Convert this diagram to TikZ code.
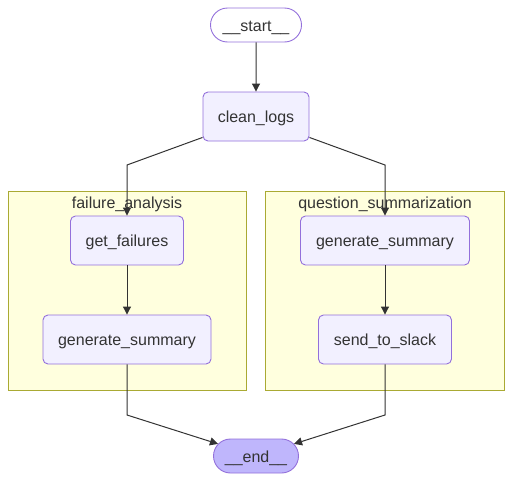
\documentclass[tikz,border=0pt]{standalone}
\usepackage{fontspec}
\setmainfont{Liberation Sans}
\usetikzlibrary{arrows.meta,shapes.misc}
\definecolor{nodefill}{HTML}{F2F0FF}
\definecolor{nodeline}{HTML}{9370DB}
\definecolor{lastfill}{HTML}{BFB6FC}
\definecolor{clusterfill}{HTML}{FFFFDE}
\definecolor{clusterline}{HTML}{AAAA33}
\definecolor{ink}{HTML}{333333}
\tikzset{
  task/.style={rectangle, rounded corners=5pt, draw=nodeline, fill=nodefill, line width=0.9pt,
    minimum height=49pt, inner sep=0pt, text height=14pt, text depth=1.2pt,
    text=ink, font=\fontsize{16}{19}\selectfont},
  terminal/.style={rounded rectangle, draw=nodeline, line width=0.9pt, minimum height=34pt,
    inner sep=0pt, text height=14pt, text depth=1pt, text=ink, font=\fontsize{16}{19}\selectfont},
  cluster/.style={draw=clusterline, fill=clusterfill, line width=0.9pt},
  clusterlabel/.style={text=ink, font=\fontsize{16}{19}\selectfont, inner sep=0pt, anchor=base},
  flow/.style={draw=ink, line width=1pt, -{Triangle[length=8pt,width=8pt]}}
}
\begin{document}
\begin{tikzpicture}[x=1pt,y=-1pt]
\useasboundingbox (0,0) rectangle (512,482);
% subgraph boxes
\draw[cluster] (8,191) rectangle (246,390);
\draw[cluster] (265,191) rectangle (504,390);
\node[clusterlabel] (fa) at (127,208.3) {failure\_analysis};
\node[clusterlabel] (qs) at (385,208.3) {question\_summarization};
% nodes
\node[terminal, minimum width=91pt] (start) at (256,25) {\_\_start\_\_};
\node[task, minimum width=106pt] (clean) at (256,116.5) {clean\_logs};
\node[task, minimum width=113pt] (getf) at (127,240.5) {get\_failures};
\node[task, minimum width=168pt] (gsa) at (127,339.5) {generate\_summary};
\node[task, minimum width=169pt] (gsb) at (385,240.5) {generate\_summary};
\node[task, minimum width=133pt] (slack) at (385,339.5) {send\_to\_slack};
\node[terminal, fill=lastfill, minimum width=85pt] (finish) at (256,456) {\_\_end\_\_};
% bends
\coordinate (bl) at (127,165);
\coordinate (br) at (385,165);
\coordinate (el) at (127,415);
\coordinate (er) at (385,415);
% edges
\draw[flow] (start) -- (clean);
\draw[flow] ([yshift=4pt]clean.south west) -- (bl) -- (getf);
\draw[flow] ([yshift=4pt]clean.south east) -- (br) -- (gsb);
\draw[flow] (getf) -- (gsa);
\draw[flow] (gsb) -- (slack);
\draw[flow] (gsa) -- (el) -- (finish);
\draw[flow] (slack) -- (er) -- (finish);
\end{tikzpicture}
\end{document}
